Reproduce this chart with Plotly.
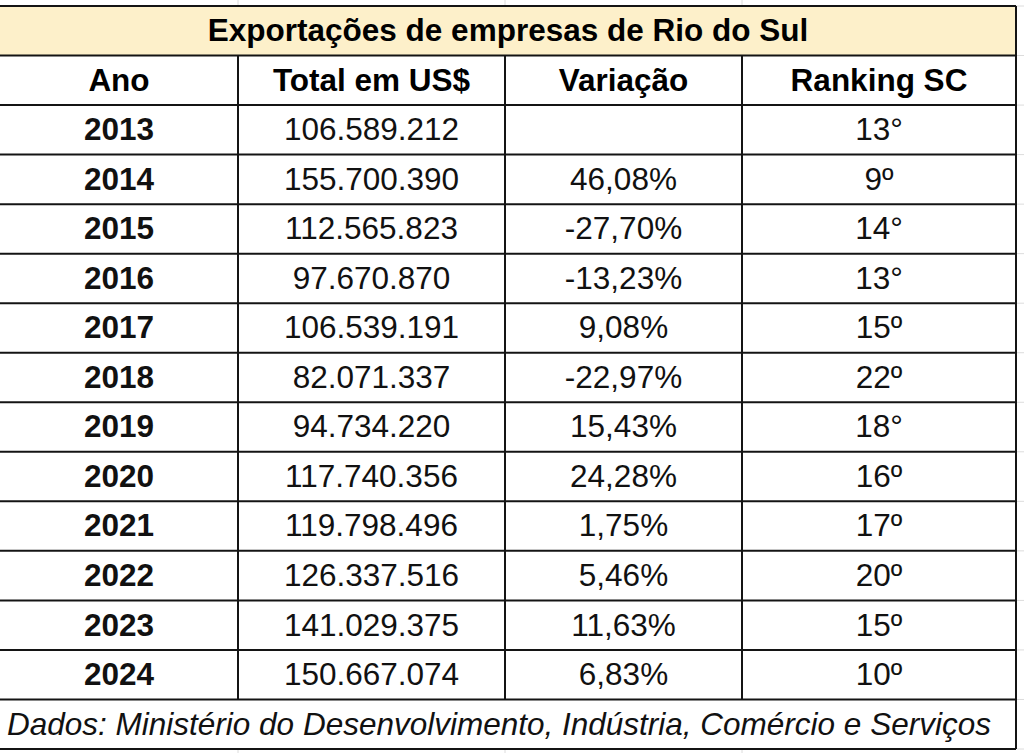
import plotly.graph_objects as go

# ---------------- data ----------------
title = "Exportações de empresas de Rio do Sul"
headers = ["Ano", "Total em US$", "Variação", "Ranking SC"]
years = [2013, 2014, 2015, 2016, 2017, 2018, 2019, 2020, 2021, 2022, 2023, 2024]
totals = [106589212, 155700390, 112565823, 97670870, 106539191, 82071337,
          94734220, 117740356, 119798496, 126337516, 141029375, 150667074]
variation = [None, 46.08, -27.70, -13.23, 9.08, -22.97, 15.43, 24.28, 1.75, 5.46, 11.63, 6.83]
ranking = ["13°", "9º", "14°", "13°", "15º", "22º", "18°", "16º", "17º", "20º", "15º", "10º"]
source = "Dados: Ministério do Desenvolvimento, Indústria, Comércio e Serviços"

# ---------------- layout geometry ----------------
W, H = 1024, 753
col_edges = [0, 238, 505, 742, 1016]
top, bottom = 6, 749
n_rows = 2 + len(years) + 1
row_h = (bottom - top) / n_rows
row_edges = [top + i * row_h for i in range(n_rows + 1)]
FONT = "Liberation Sans, Arial, Helvetica, sans-serif"
FS = 31.5
DY = 2.5  # small downward nudge of text within rows


def fmt_total(v):
    return f"{v:,}".replace(",", ".")


def fmt_var(v):
    return "" if v is None else f"{v:.2f}".replace(".", ",") + "%"


def row_center(i):
    return (row_edges[i] + row_edges[i + 1]) / 2 + DY


col_centers = [(col_edges[i] + col_edges[i + 1]) / 2 for i in range(4)]

fig = go.Figure()

# title
fig.add_trace(go.Scatter(x=[(col_edges[0] + col_edges[-1]) / 2], y=[row_center(0)],
                         mode="text", text=[f"<b>{title}</b>"],
                         textfont=dict(family=FONT, size=FS, color="#000"),
                         hoverinfo="skip", showlegend=False))
# headers
fig.add_trace(go.Scatter(x=col_centers, y=[row_center(1)] * 4, mode="text",
                         text=[f"<b>{h}</b>" for h in headers],
                         textfont=dict(family=FONT, size=FS, color="#000"),
                         hoverinfo="skip", showlegend=False))
# data rows
ys = [row_center(2 + i) for i in range(len(years))]
columns = [
    [f"<b>{y}</b>" for y in years],
    [fmt_total(v) for v in totals],
    [fmt_var(v) for v in variation],
    ranking,
]
for ci, txt in enumerate(columns):
    fig.add_trace(go.Scatter(x=[col_centers[ci]] * len(txt), y=ys, mode="text", text=txt,
                             textfont=dict(family=FONT, size=FS, color="#111"),
                             hoverinfo="skip", showlegend=False))
# footer
fig.add_trace(go.Scatter(x=[7], y=[row_center(n_rows - 1)], mode="text",
                         text=[f"<i>{source}</i>"], textposition="middle right",
                         textfont=dict(family=FONT, size=FS, color="#111"),
                         hoverinfo="skip", showlegend=False))

shapes = []
# faint spreadsheet gridlines outside the table
faint = dict(color="#dcdcdc", width=1)
for x in col_edges[1:-1]:
    shapes.append(dict(type="line", x0=x, x1=x, y0=0, y1=top, line=faint))
    shapes.append(dict(type="line", x0=x, x1=x, y0=bottom, y1=H, line=faint))
for y in row_edges:
    shapes.append(dict(type="line", x0=col_edges[-1], x1=W, y0=y, y1=y, line=faint))

# title fill
shapes.append(dict(type="rect", x0=col_edges[0], x1=col_edges[-1], y0=row_edges[0], y1=row_edges[1],
                   fillcolor="#fdf0ca", line=dict(width=0), layer="below"))
line = dict(color="#141414", width=2)
# horizontal lines
for y in row_edges:
    shapes.append(dict(type="line", x0=col_edges[0], x1=col_edges[-1], y0=y, y1=y, line=line))
# vertical internal lines (header + data rows only)
for x in col_edges[1:-1]:
    shapes.append(dict(type="line", x0=x, x1=x, y0=row_edges[1], y1=row_edges[-2], line=line))
# outer right border
shapes.append(dict(type="line", x0=col_edges[-1], x1=col_edges[-1], y0=row_edges[0], y1=row_edges[-1], line=line))

fig.update_layout(
    width=W, height=H, margin=dict(l=0, r=0, t=0, b=0),
    paper_bgcolor="white", plot_bgcolor="white",
    xaxis=dict(range=[0, W], visible=False, fixedrange=True),
    yaxis=dict(range=[H, 0], visible=False, fixedrange=True),
    shapes=shapes, showlegend=False,
)

fig.write_html(
    "out.html",
    config={"displayModeBar": False},
    post_script="document.body.style.margin='0';document.body.style.padding='0';"
                "document.body.style.overflow='hidden';",
)
